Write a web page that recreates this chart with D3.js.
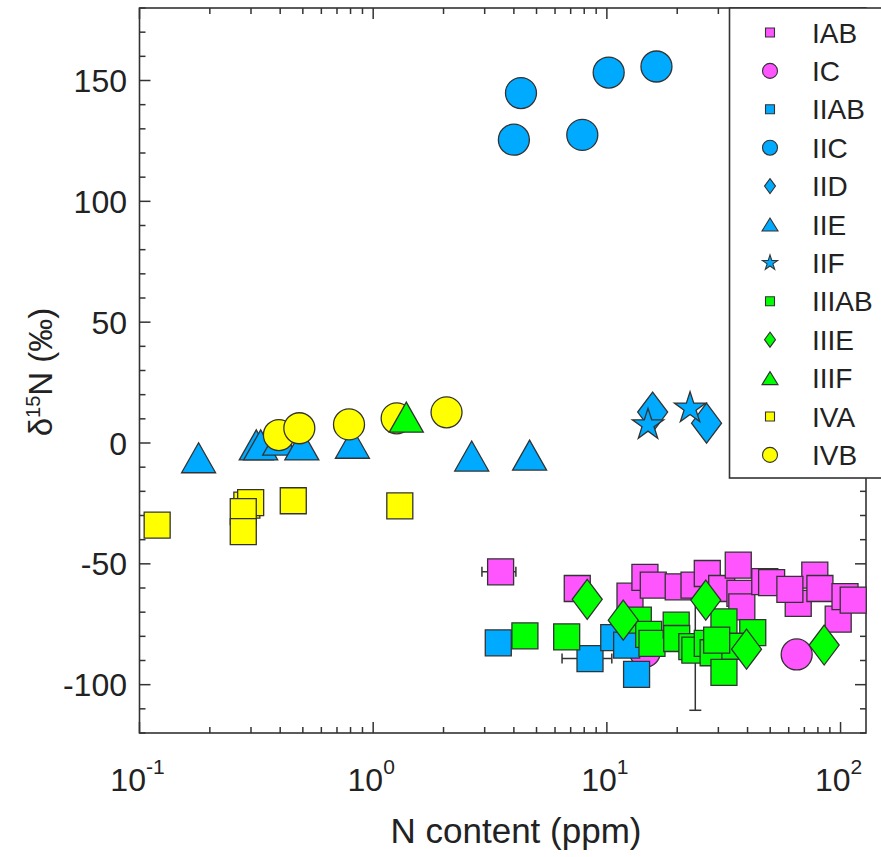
<!DOCTYPE html>
<html><head><meta charset="utf-8">
<script src="https://cdn.jsdelivr.net/npm/d3@7"></script>
<style>
body{margin:0;background:#fff}
svg{display:block}
text{font-family:"Liberation Sans",Arial,Helvetica,sans-serif;fill:#222}
</style>
</head><body>
<svg id="c" width="881" height="857"></svg>
<script>
// ---- data ----
const groups = ["IAB","IC","IIAB","IIC","IID","IIE","IIF","IIIAB","IIIE","IIIF","IVA","IVB"];
const shapes = ["square","circle","square","circle","diamond","triangle","star","square","diamond","triangle","square","circle"];
const colors = ["#ff55ff","#ff55ff","#00aaff","#00aaff","#00aaff","#00aaff","#00aaff","#00ff00","#00ff00","#00ff00","#ffff00","#ffff00"];
const drawOrder = ["IAB","IC","IIAB","IIC","IID","IIF","IIE","IIIAB","IIIE","IVA","IVB","IIIF"];

const IAB_N = [3.51,7.47,12.56,14.55,15.8,20.2,23.6,26.9,31.0,36.5,37.1,37.8,47.4,50.7,65.9,77.6,81.6,97.7,104.5,113.3,60.7];
const IAB_d = [-53.3,-60.2,-63.4,-55.6,-58.8,-59.5,-58.8,-54.0,-60.2,-50.5,-62.2,-67.8,-57.4,-57.8,-66.4,-54.7,-60.2,-72.9,-63.6,-65.0,-60.6];
const IC_N = [14.55,64.9];
const IC_d = [-86.4,-87.5];
const IIAB_N = [3.43,8.47,10.7,12.15,13.4];
const IIAB_d = [-82.7,-89.2,-80.5,-83.6,-95.7];
const IIC_N = [4.29,4.00,7.85,10.18,16.3];
const IIC_d = [144.8,125.5,127.5,153.3,155.8];
const IID_N = [15.7,26.7];
const IID_d = [12.8,8.2];
const IIE_N = [0.179,0.316,0.330,0.398,0.495,0.815,2.64,4.67];
const IIE_d = [-6.1,-0.8,-0.8,1.2,-0.8,-0.1,-5.4,-5.0];
const IIF_N = [15.0,22.7];
const IIF_d = [7.5,14.4];
const IIIAB_N = [4.46,6.73,13.63,15.1,15.6,19.8,19.9,23.1,23.8,26.9,28.5,31.7,31.7,42.1,35.3,29.5];
const IIIAB_d = [-79.8,-80.2,-73.3,-79.2,-82.9,-75.4,-80.9,-84.3,-85.7,-82.9,-86.8,-74.0,-94.9,-78.5,-84.1,-81.6];
const IIIE_N = [8.24,11.75,26.5,39.6,85.1];
const IIIE_d = [-64.7,-73.3,-65.0,-85.3,-83.6];
const IIIF_N = [1.386];
const IIIF_d = [10.7];
const IVA_N = [0.119,0.288,0.299,0.278,0.278,0.455,1.30];
const IVA_d = [-34.0,-25.7,-24.7,-28.4,-36.7,-23.9,-26.0];
const IVB_N = [0.395,0.483,0.788,1.26,2.06];
const IVB_d = [3.3,6.1,7.7,10.2,12.7];

// error bars: [N, d, low, high]
const xErrBars = [[3.51,-53.3,2.92,4.08],[8.47,-89.2,6.43,10.5],[0.119,-34.0,0.1055,0.125]];
const yErrBars = [[23.9,-85.7,-110.6,-60.8]];

const xTickDecades = [0.1,1,10,100];
const xTickExp = ["-1","0","1","2"];
const yTickMajor = [-100,-50,0,50,100,150];
const xLabel = "N content (ppm)";

const seriesData = {
  IAB:[IAB_N,IAB_d], IC:[IC_N,IC_d], IIAB:[IIAB_N,IIAB_d], IIC:[IIC_N,IIC_d],
  IID:[IID_N,IID_d], IIE:[IIE_N,IIE_d], IIF:[IIF_N,IIF_d], IIIAB:[IIIAB_N,IIIAB_d],
  IIIE:[IIIE_N,IIIE_d], IIIF:[IIIF_N,IIIF_d], IVA:[IVA_N,IVA_d], IVB:[IVB_N,IVB_d]
};

// ---- layout ----
const L=139.5, R=866, T=8, B=733;
const svg = d3.select("#c");
const x = d3.scaleLog().domain([0.1,128.5]).range([L,R]);
const y = d3.scaleLinear().domain([-120,180]).range([B,T]);
const stroke="#333";

// marker paths
function markerPath(shape, big){
  const p = d3.path();
  if(shape==="square"){ const s=big?26:9; p.rect(-s/2,-s/2,s,s); }
  else if(shape==="circle"){ const r=big?15.5:7.5; p.moveTo(r,0); p.arc(0,0,r,0,2*Math.PI); p.closePath(); }
  else if(shape==="diamond"){ const w=big?15:5.5, h=big?20:7.5; p.moveTo(0,-h); p.lineTo(w,0); p.lineTo(0,h); p.lineTo(-w,0); p.closePath(); }
  else if(shape==="triangle"){ const w=big?17:8, h=big?15:6.5; p.moveTo(0,-h); p.lineTo(w,h); p.lineTo(-w,h); p.closePath(); }
  else if(shape==="star"){ const Ro=big?16.5:8, Ri=Ro*0.382;
    for(let i=0;i<10;i++){ const a=-Math.PI/2+i*Math.PI/5, rr=i%2?Ri:Ro; const px=rr*Math.cos(a), py=rr*Math.sin(a); if(i===0)p.moveTo(px,py); else p.lineTo(px,py);} p.closePath(); }
  return p.toString();
}

// frame
svg.append("rect").attr("x",L).attr("y",T).attr("width",R-L).attr("height",B-T)
  .attr("fill","none").attr("stroke",stroke).attr("stroke-width",1.6);

// ticks
const tk = svg.append("g").attr("stroke",stroke).attr("stroke-width",1.5);
const xMinor=[]; for(const dcd of [0.1,1,10,100]) for(let k=2;k<=9;k++){ const v=dcd*k; if(v<=128.5) xMinor.push(v); }
xTickDecades.forEach(v=>{ const px=x(v);
  tk.append("line").attr("x1",px).attr("x2",px).attr("y1",B).attr("y2",B-11);
  tk.append("line").attr("x1",px).attr("x2",px).attr("y1",T).attr("y2",T+11); });
xMinor.forEach(v=>{ const px=x(v);
  tk.append("line").attr("x1",px).attr("x2",px).attr("y1",B).attr("y2",B-6);
  tk.append("line").attr("x1",px).attr("x2",px).attr("y1",T).attr("y2",T+6); });
d3.range(-120,181,10).forEach(v=>{ const py=y(v); const len = yTickMajor.includes(v)?11:6;
  tk.append("line").attr("x1",L).attr("x2",L+len).attr("y1",py).attr("y2",py);
  tk.append("line").attr("x1",R).attr("x2",R-len).attr("y1",py).attr("y2",py); });

// tick labels
yTickMajor.forEach(v=>{
  svg.append("text").attr("x",127).attr("y",y(v)+11.5).attr("text-anchor","end")
    .attr("font-size",32).text(v);
});
xTickDecades.forEach((v,i)=>{
  const t = svg.append("text").attr("x",x(v)-2).attr("y",791).attr("text-anchor","middle").attr("font-size",32);
  t.append("tspan").text("10");
  t.append("tspan").attr("dy",-17).attr("font-size",21).text(xTickExp[i]);
});

// axis labels
svg.append("text").attr("x",516).attr("y",843).attr("text-anchor","middle").attr("font-size",35).text(xLabel);
const yl = svg.append("text").attr("transform","translate(52,372) rotate(-90)").attr("text-anchor","middle").attr("font-size",33);
yl.append("tspan").text("δ");
yl.append("tspan").attr("dy",-12).attr("font-size",20).text("15");
yl.append("tspan").attr("dy",12).text("N (‰)");

// error bars (below markers)
const eb = svg.append("g").attr("stroke",stroke).attr("stroke-width",1.5).attr("fill","none");
xErrBars.forEach(([n,d,lo,hi])=>{
  const py=y(d);
  eb.append("line").attr("x1",x(lo)).attr("x2",x(hi)).attr("y1",py).attr("y2",py);
  eb.append("line").attr("x1",x(lo)).attr("x2",x(lo)).attr("y1",py-5).attr("y2",py+5);
  eb.append("line").attr("x1",x(hi)).attr("x2",x(hi)).attr("y1",py-5).attr("y2",py+5);
});
yErrBars.forEach(([n,d,lo,hi])=>{
  const px=x(n);
  eb.append("line").attr("x1",px).attr("x2",px).attr("y1",y(lo)).attr("y2",y(hi));
  eb.append("line").attr("x1",px-6).attr("x2",px+6).attr("y1",y(lo)).attr("y2",y(lo));
  eb.append("line").attr("x1",px-6).attr("x2",px+6).attr("y1",y(hi)).attr("y2",y(hi));
});

// markers
drawOrder.forEach(g=>{
  const gi = groups.indexOf(g);
  const [ns,ds] = seriesData[g];
  const pts = ns.map((n,i)=>[n,ds[i]]);
  svg.append("g").selectAll("path").data(pts).join("path")
    .attr("d",markerPath(shapes[gi],true))
    .attr("transform",d=>`translate(${x(d[0])},${y(d[1])})`)
    .attr("fill",colors[gi]).attr("stroke",stroke).attr("stroke-width",1.3);
});

// legend
const lg = svg.append("g");
lg.append("rect").attr("x",729.5).attr("y",8).attr("width",170).attr("height",470)
  .attr("fill","#fff").attr("stroke",stroke).attr("stroke-width",1.6);
groups.forEach((g,i)=>{
  const cy = 32.5 + i*38.4;
  lg.append("path").attr("d",markerPath(shapes[i],false)).attr("transform",`translate(770,${cy})`)
    .attr("fill",colors[i]).attr("stroke",stroke).attr("stroke-width",1.1);
  lg.append("text").attr("x",812).attr("y",cy+10).attr("font-size",28).text(g);
});
</script>
</body></html>
